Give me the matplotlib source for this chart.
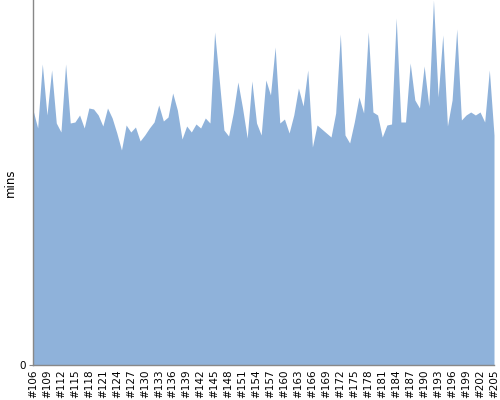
import matplotlib
matplotlib.use("Agg")
import matplotlib.pyplot as plt

# Build numbers #106..#205
builds = [f"#{n}" for n in range(106, 206)]

# Duration per build (mins)
durations = [
    25.5, 23.7, 30.1, 25.0, 29.5, 24.2, 23.3, 30.1, 24.2, 24.3,
    25.0, 23.7, 25.7, 25.6, 25.0, 23.9, 25.7, 24.7, 23.2, 21.5,
    24.0, 23.3, 23.8, 22.4, 23.0, 23.7, 24.3, 26.0, 24.4, 24.8,
    27.2, 25.5, 22.6, 23.9, 23.3, 24.1, 23.7, 24.7, 24.2, 33.3,
    28.5, 23.5, 22.9, 25.2, 28.3, 25.7, 22.7, 28.4, 24.2, 23.0,
    28.5, 27.0, 31.8, 24.2, 24.6, 23.2, 25.0, 27.7, 25.9, 29.5,
    21.8, 24.0, 23.6, 23.2, 22.8, 25.2, 33.1, 23.0, 22.2, 24.3,
    26.8, 25.2, 33.3, 25.3, 25.0, 22.8, 24.0, 24.1, 34.7, 24.3,
    24.3, 30.2, 26.5, 25.7, 29.9, 25.9, 36.5, 26.8, 33.0, 23.9,
    26.5, 33.6, 24.5, 25.0, 25.3, 25.0, 25.3, 24.3, 29.5, 23.0,
]

fig = plt.figure(figsize=(5, 4), dpi=100)
ax = fig.add_axes([0.066, 0.0875, 0.922, 0.9125])

x = list(range(len(builds)))
ax.fill_between(x, durations, 0, color='#8fb2da', linewidth=0)

ax.set_xlim(0, len(builds) - 1)
ax.set_ylim(0, max(durations))

ax.set_xticks(x[::3])
ax.set_xticklabels(builds[::3], rotation=90, fontsize=7.5)
ax.set_yticks([0])
ax.set_yticklabels(['0'], fontsize=7.5)
ax.tick_params(axis='x', length=0, pad=3)
ax.tick_params(axis='y', length=3, color='#888888', pad=2)
ax.set_ylabel('mins', fontsize=8.5)
ax.yaxis.set_label_coords(-0.036, 0.5)

for side in ['top', 'right']:
    ax.spines[side].set_visible(False)
for side in ['left', 'bottom']:
    ax.spines[side].set_color('#888888')
    ax.spines[side].set_linewidth(1)

fig.savefig('out.png', dpi=100)
